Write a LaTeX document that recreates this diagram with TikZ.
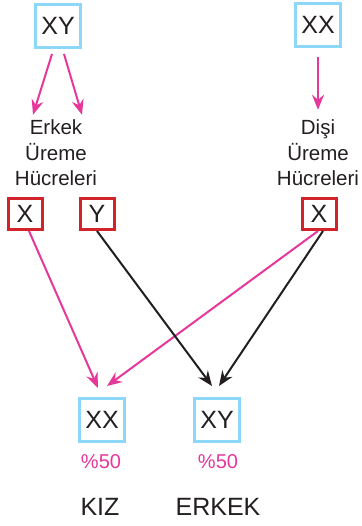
\documentclass[tikz,border=0pt]{standalone}
\usepackage{fontspec}
\setmainfont{Liberation Sans}
\usetikzlibrary{arrows.meta}
\definecolor{pinkc}{HTML}{E6379A}
\definecolor{bluec}{HTML}{8DD8F8}
\definecolor{redc}{HTML}{D2232A}
\definecolor{txtc}{HTML}{231F20}
\tikzset{
  bluebox/.style={draw=bluec, line width=3pt, fill=white, inner sep=0pt,
    minimum width=45pt, minimum height=43pt, font=\fontsize{25}{25}\selectfont, text=txtc},
  redbox/.style={draw=redc, line width=3pt, fill=white, inner sep=0pt,
    minimum width=34pt, minimum height=31pt, font=\fontsize{25}{25}\selectfont, text=txtc},
  label/.style={align=center, font=\fontsize{20.5}{25.5}\selectfont, text=txtc, inner sep=0pt},
  pct/.style={font=\fontsize{20}{20}\selectfont, text=pinkc, inner sep=0pt},
  sex/.style={font=\fontsize{25}{25}\selectfont, text=txtc, inner sep=0pt},
  tip/.style={-{Stealth[length=15pt,width=12pt,inset=5pt]}},
  pinkarr/.style={tip, draw=pinkc, line width=2pt},
  blackarr/.style={tip, draw=txtc, line width=2pt},
}
\begin{document}
\begin{tikzpicture}[x=1pt,y=-1pt]
\useasboundingbox[fill=white] (0,0) rectangle (361,526);
\node[bluebox] (xy1) at (58,26) {XY};
\node[bluebox] (xx1) at (318,25) {XX};
\node[label] (erkek) at (56,153) {Erkek\\Üreme\\Hücreleri};
\node[label] (disi) at (318,153) {Dişi\\Üreme\\Hücreleri};
\node[redbox] (rx1) at (25,214) {X};
\node[redbox] (ry) at (97,214) {Y};
\node[redbox] (rx2) at (319,214) {X};
\node[bluebox] (xx2) at (102,420) {XX};
\node[bluebox] (xy2) at (217,420) {XY};
\node[pct] (p1) at (101,462) {\%50};
\node[pct] (p2) at (218,462) {\%50};
\node[sex] (kiz) at (100,507) {KIZ};
\node[sex] (erk) at (218,507) {ERKEK};
% top arrows
\draw[pinkarr] ([xshift=-6pt,yshift=-5pt]xy1.south) -- ([xshift=-23pt,yshift=5pt]erkek.north);
\draw[pinkarr] ([xshift=6pt,yshift=-5pt]xy1.south) -- ([xshift=26pt,yshift=5pt]erkek.north);
\draw[pinkarr] ([yshift=-9pt]xx1.south) -- ([yshift=10pt]disi.north);
% bottom arrows
\draw[pinkarr] ([xshift=4pt]rx1.south) -- ([xshift=-4pt,yshift=9pt]xx2.north);
\draw[pinkarr] ([xshift=-1pt]rx2.south) -- ([xshift=5pt,yshift=11pt]xx2.north);
\draw[blackarr] (ry.south) -- ([xshift=-5pt,yshift=11pt]xy2.north);
\draw[blackarr] ([xshift=4pt]rx2.south) -- ([xshift=2pt,yshift=11pt]xy2.north);
\end{tikzpicture}
\end{document}
